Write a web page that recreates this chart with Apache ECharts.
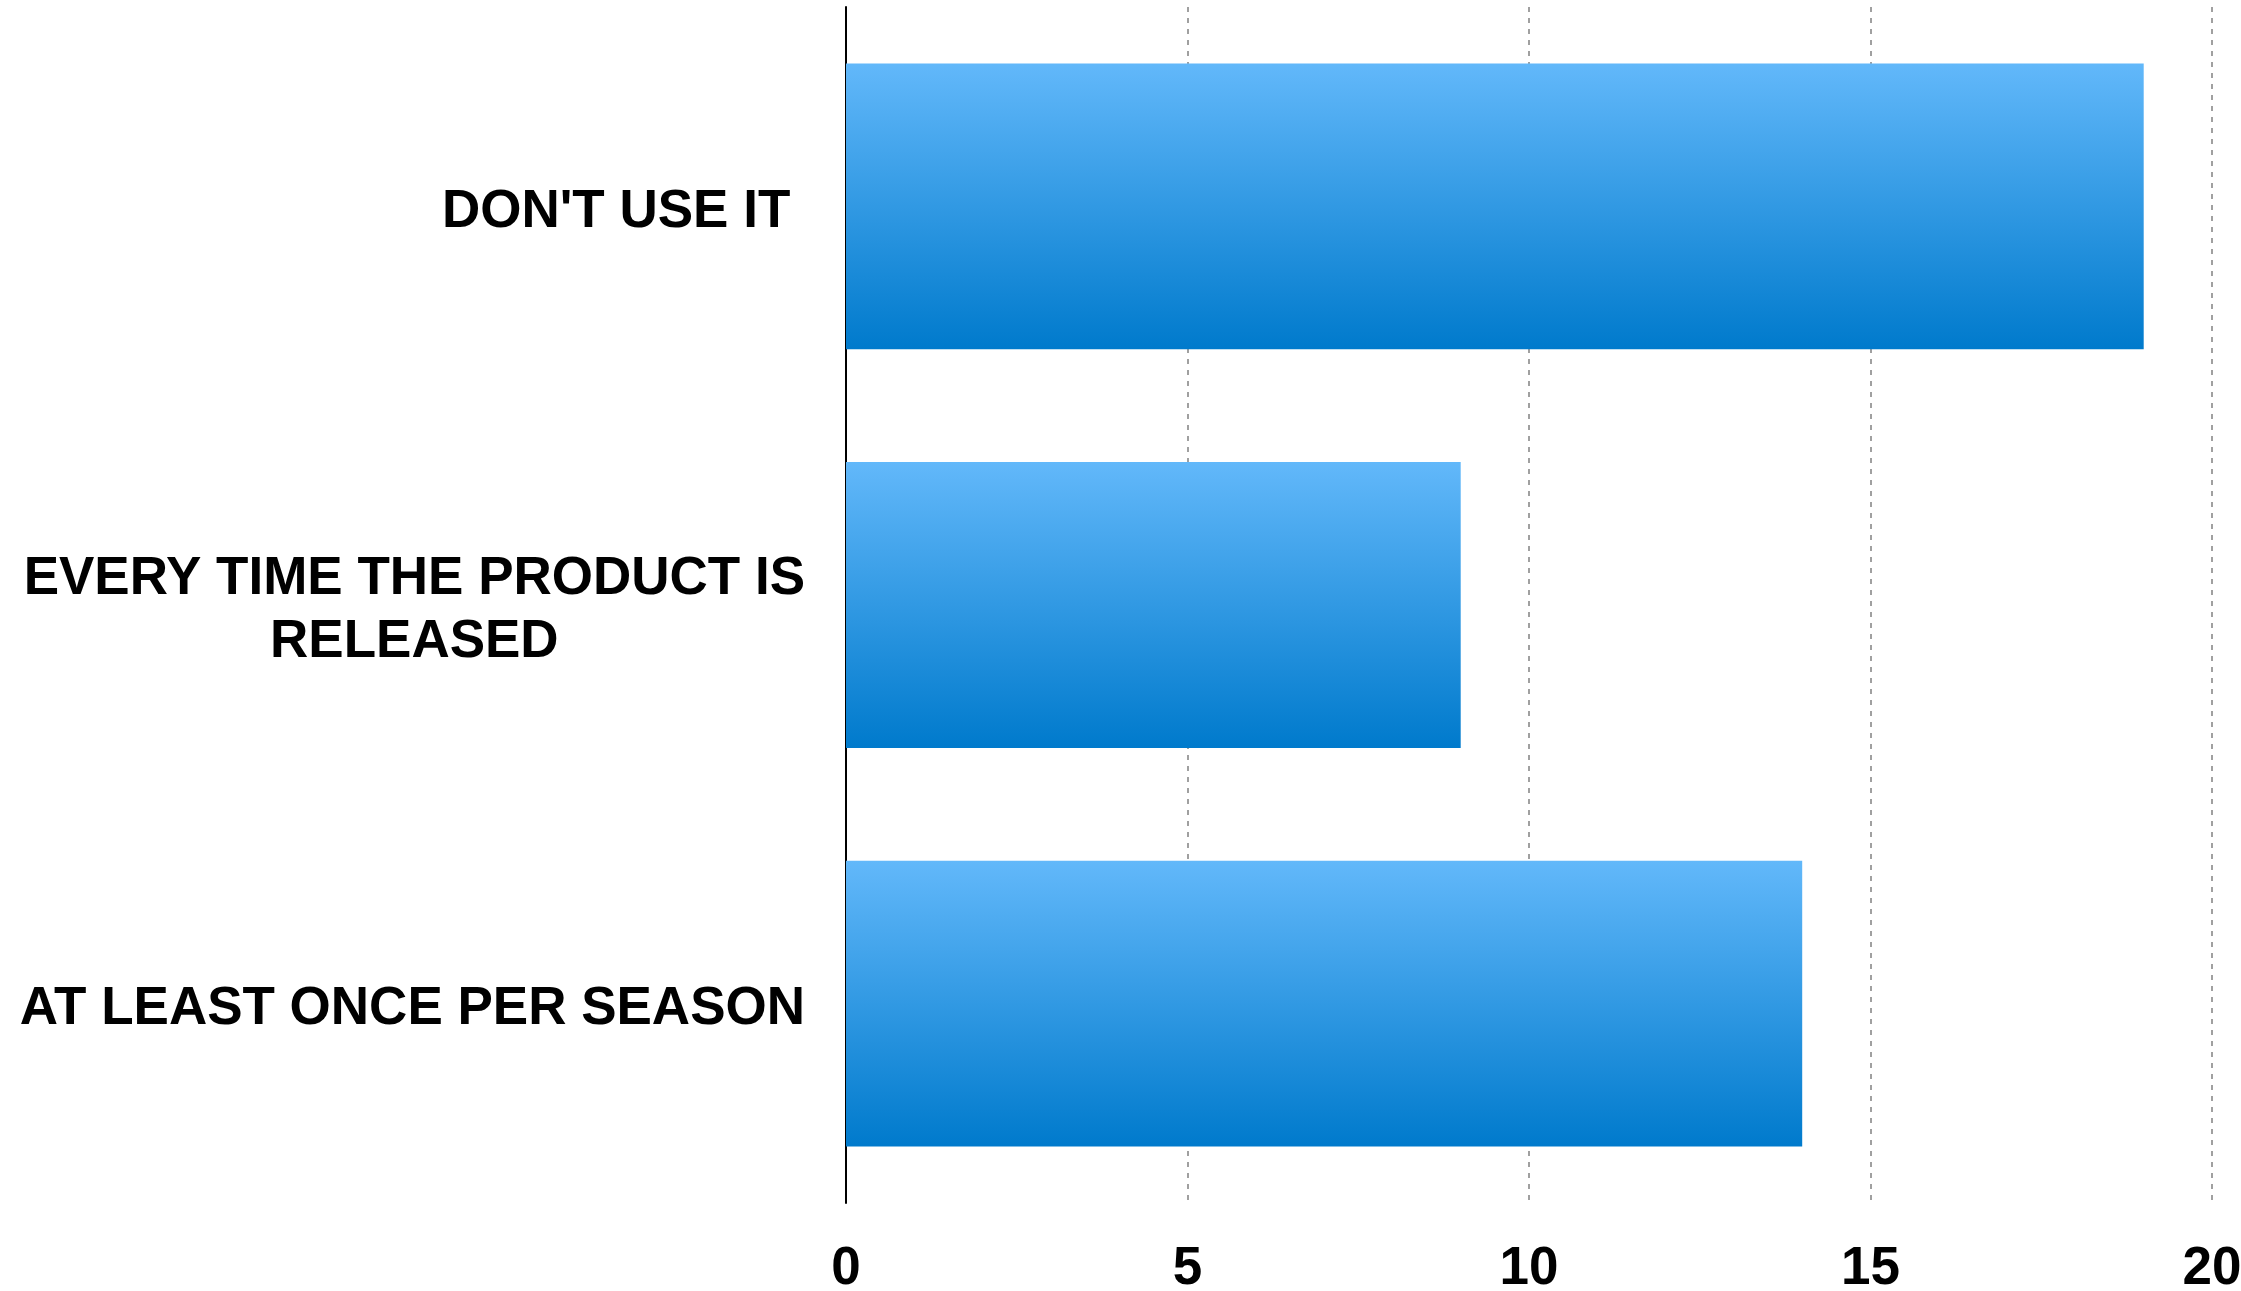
<!DOCTYPE html>
<html>
<head>
<meta charset="utf-8">
<style>
  html, body { margin: 0; padding: 0; background: #ffffff; }
  #chart { width: 2241px; height: 1291px; }
</style>
<script src="https://cdn.jsdelivr.net/npm/echarts@6/dist/echarts.min.js"></script>
</head>
<body>
<div id="chart"></div>
<script>
const categories = ["DON'T USE IT ", "EVERY TIME THE PRODUCT IS\nRELEASED", "AT LEAST ONCE PER SEASON"];
const values = [19, 9, 14];
const xTicks = [0, 5, 10, 15, 20];

const chart = echarts.init(document.getElementById('chart'), null, { renderer: 'canvas' });
const labelFont = { fontFamily: '"Liberation Sans", Arial, Helvetica, sans-serif', fontWeight: 'bold', fontSize: 53, color: '#000000' };

chart.setOption({
  animation: false,
  backgroundColor: '#ffffff',
  grid: { left: 846, right: 29, top: 7, bottom: 88, containLabel: false, outerBoundsMode: 'none' },
  xAxis: {
    type: 'value',
    min: xTicks[0],
    max: xTicks[xTicks.length - 1],
    interval: xTicks[1] - xTicks[0],
    axisLine: { show: false },
    axisTick: { show: false },
    splitLine: { show: true, lineStyle: { color: '#a0a0a0', width: 2, type: [5, 6] } },
    axisLabel: Object.assign({ margin: 40 }, labelFont)
  },
  yAxis: {
    type: 'category',
    data: categories,
    inverse: true,
    axisLine: { show: true, lineStyle: { color: '#000000', width: 2 } },
    axisTick: { show: false },
    splitLine: { show: false },
    axisLabel: {
      margin: 41,
      padding: [12, 0, 0, 0],
      formatter: function (v) {
        return v.split('\n').map(function (l) { return '{c|' + l + '}'; }).join('\n');
      },
      rich: {
        c: Object.assign({ align: 'center', lineHeight: 63 }, labelFont)
      }
    }
  },
  series: [{
    type: 'bar',
    data: values,
    barCategoryGap: '28.3%',
    itemStyle: {
      color: {
        type: 'linear', x: 0, y: 0, x2: 0, y2: 1,
        colorStops: [
          { offset: 0, color: '#62b8fa' },
          { offset: 1, color: '#007acc' }
        ]
      }
    }
  }]
});
</script>
</body>
</html>
